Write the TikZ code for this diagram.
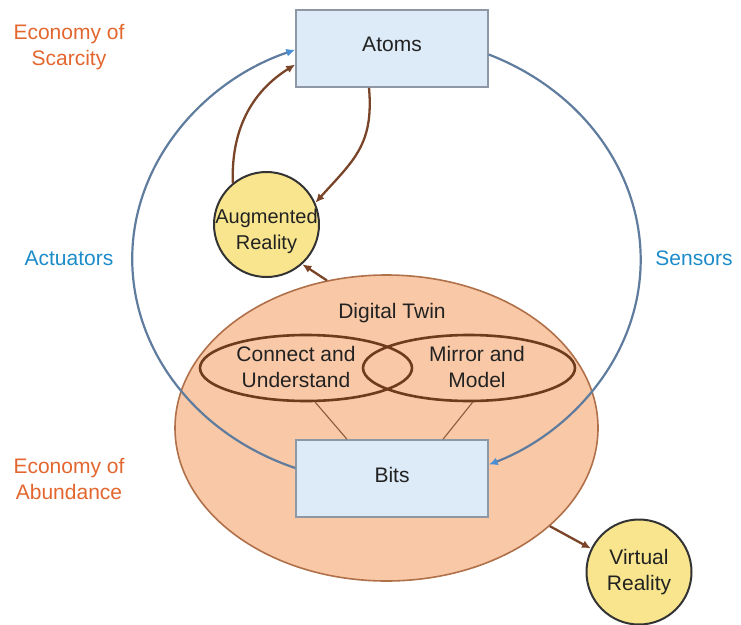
\documentclass[tikz,border=0pt]{standalone}
\usepackage{fontspec}
\setmainfont{Liberation Sans}
\usetikzlibrary{shapes.geometric,arrows.meta,calc}
\definecolor{boxfill}{HTML}{DDEAF7}
\definecolor{boxline}{HTML}{8E98A4}
\definecolor{twinfill}{HTML}{F9C8A6}
\definecolor{twinline}{HTML}{B0704A}
\definecolor{lobeline}{HTML}{6E3B1C}
\definecolor{circfill}{HTML}{F8E58E}
\definecolor{circline}{HTML}{333333}
\definecolor{arcblue}{HTML}{5F7C9E}
\definecolor{tipblue}{HTML}{4A8FD4}
\definecolor{flowbrown}{HTML}{7A4428}
\definecolor{thinbrown}{HTML}{8A5A3C}
\definecolor{econorange}{HTML}{E2662E}
\definecolor{sigblue}{HTML}{1C8BC9}
\definecolor{txt}{HTML}{222222}
\begin{document}
\begin{tikzpicture}[x=1pt,y=1pt,
  font=\fontsize{21}{26}\selectfont, text=txt,
  box/.style={draw=boxline, fill=boxfill, line width=1.5pt, minimum width=192pt, minimum height=77pt, inner sep=0pt, text depth=7.5pt},
  twin/.style={ellipse, draw=twinline, fill=twinfill, line width=1.6pt, minimum width=423pt, minimum height=306pt, inner sep=0pt},
  lobe/.style={ellipse, draw=lobeline, line width=2.6pt, minimum width=212pt, minimum height=66pt, inner sep=0pt},
  reality/.style={circle, draw=circline, fill=circfill, line width=2pt, minimum size=105pt, inner sep=0pt, align=center},
  sig/.style={draw=arcblue, line width=2.2pt, -{Latex[length=9pt,width=8pt,color=tipblue]}},
  flow/.style={draw=flowbrown, line width=2.3pt, -{Latex[length=9pt,width=8pt]}},
  thinlink/.style={draw=thinbrown, line width=1.1pt},
  lbl/.style={align=center, inner sep=0pt},
  econ/.style={lbl, text=econorange},
  sigtxt/.style={lbl, text=sigblue}
]
\useasboundingbox (0,0) rectangle (741,-624);

% Digital twin
\node[twin] (dt) at (386.5,-428) {};
\node[lbl] (dttext) at (392,-313) {Digital Twin};
\node[lobe] (le) at (306,-368) {};
\node[lobe] (re) at (469,-368) {};
\node[lbl] (letext) at (296,-367) {Connect and\\Understand};
\node[lbl] (retext) at (477,-367) {Mirror and\\Model};

% boxes
\node[box] (atoms) at (392,-48.5) {Atoms};
\node[box] (bits) at (392,-478.5) {Bits};

\draw[thinlink] (le.-75) -- ($(bits.north)+(-45,0)$);
\draw[thinlink] (re.-84) -- ($(bits.north)+(51,0)$);

% realities
\node[reality] (ar) at (266.5,-224.5) {};
\node[lbl, font=\fontsize{20}{26}\selectfont] (artext) at (266.5,-231) {Augmented\\Reality};
\node[reality] (vr) at (639,-572) {Virtual\\Reality};

% labels
\node[econ] (scar) at (69,-47) {Economy of\\Scarcity};
\node[econ] (abund) at (69,-479) {Economy of\\Abundance};
\node[sigtxt] (act) at (69,-258) {Actuators};
\node[sigtxt] (sens) at (694,-258) {Sensors};

% blue loop
\draw[sig] ($(bits.west)+(0,10.5)$) arc[start angle=249, end angle=111, x radius=254, y radius=224];
\draw[sig] ($(atoms.east)+(0,-6)$) arc[start angle=66.3, end angle=-66.3, x radius=254, y radius=224];

% brown flows
\draw[flow] (ar.129) to[out=92,in=212] ($(atoms.west)+(0,-16)$);
\draw[flow] ($(atoms.south)+(-23,0)$) to[out=-85,in=48,looseness=1.15] (ar.24);
\draw[flow] (dt.112) -- (ar.-48.5);
\draw[flow] (dt.-31) -- (vr.154);
\end{tikzpicture}
\end{document}
